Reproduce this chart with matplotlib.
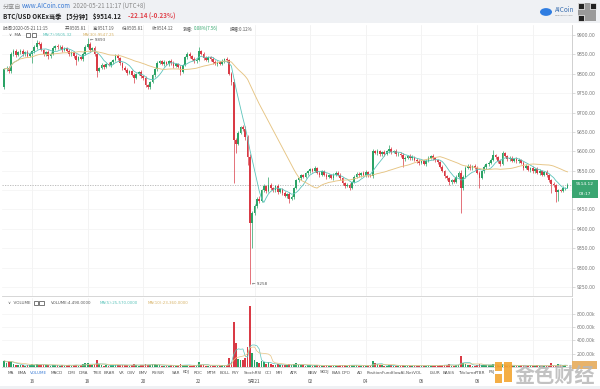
import numpy as np
import pandas as pd
import matplotlib
matplotlib.use("Agg")
import matplotlib.pyplot as plt
from matplotlib.patches import Rectangle, Circle
from matplotlib.transforms import blended_transform_factory

plt.rcParams['font.family'] = ['Noto Sans CJK SC', 'DejaVu Sans']

# ---------------- data ----------------
first_open = 9765
closes = [
    9812, 9816, 9806, 9852, 9858, 9848, 9855, 9860, 9850, 9856,
    9847, 9852, 9858, 9868, 9880, 9876, 9862, 9850, 9855, 9845,
    9852, 9866, 9872, 9868, 9870, 9862, 9866, 9858, 9850, 9855,
    9845, 9836, 9842, 9838, 9852, 9870, 9878, 9862, 9866, 9850,
    9808, 9815, 9822, 9818, 9826, 9822, 9830, 9836, 9846, 9840,
    9828, 9815, 9810, 9803, 9806, 9796, 9790, 9800, 9804, 9794,
    9788, 9770, 9765, 9778, 9796, 9812, 9828, 9832, 9826, 9830,
    9825, 9832, 9828, 9820, 9825, 9818, 9805, 9822, 9842, 9852,
    9845, 9838, 9832, 9836, 9858, 9852, 9840, 9835, 9842, 9838,
    9830, 9826, 9830, 9826, 9832, 9838, 9836, 9800, 9778, 9629,
    9620, 9648, 9662, 9658, 9636, 9585, 9415, 9441, 9460, 9478,
    9472, 9500, 9510, 9498, 9514, 9505, 9500, 9510, 9496, 9502,
    9492, 9485, 9490, 9478, 9482, 9505, 9526, 9530, 9538, 9535,
    9543, 9548, 9554, 9550, 9556, 9545, 9540, 9548, 9540, 9534,
    9538, 9532, 9540, 9545, 9540, 9530, 9518, 9510, 9514, 9506,
    9520, 9535, 9542, 9538, 9544, 9540, 9546, 9538, 9536, 9600,
    9596, 9600, 9592, 9598, 9594, 9600, 9606, 9598, 9600, 9592,
    9594, 9590, 9580, 9584, 9588, 9582, 9586, 9578, 9575, 9570,
    9574, 9568, 9576, 9584, 9588, 9582, 9578, 9572, 9560, 9550,
    9536, 9530, 9520, 9526, 9522, 9535, 9545, 9505, 9535, 9558,
    9562, 9556, 9562, 9558, 9545, 9532, 9548, 9560, 9566, 9570,
    9578, 9590, 9585, 9575, 9568, 9595, 9588, 9580, 9584, 9576,
    9580, 9574, 9578, 9570, 9558, 9562, 9552, 9556, 9548, 9555,
    9545, 9550, 9540, 9546, 9538, 9525, 9515, 9512, 9494, 9500,
    9498, 9505, 9505.81, 9514.12,
]
upper_wick = [
    3, 4, 5, 4, 6, 5, 4, 3, 5, 4,
    5, 4, 3, 5, 7, 4, 5, 3, 4, 6,
    4, 5, 3, 6, 4, 5, 3, 4, 5, 3,
    4, 5, 3, 4, 4, 5, 15, 4, 3, 5,
    4, 3, 5, 4, 3, 5, 4, 3, 4, 5,
    4, 3, 5, 4, 3, 4, 5, 3, 4, 5,
    4, 5, 3, 4, 3, 4, 5, 4, 3, 5,
    4, 3, 5, 4, 3, 4, 5, 3, 4, 4,
    4, 3, 5, 4, 12, 4, 3, 5, 4, 3,
    4, 5, 3, 4, 5, 3, 4, 3, 5, 8,
    6, 4, 3, 5, 6, 5, 8, 6, 5, 4,
    6, 4, 5, 4, 19, 5, 4, 3, 5, 4,
    4, 5, 3, 4, 5, 4, 3, 5, 4, 3,
    4, 5, 3, 4, 5, 3, 4, 5, 3, 4,
    3, 4, 5, 3, 4, 5, 3, 4, 5, 3,
    4, 3, 5, 4, 3, 4, 5, 3, 4, 6,
    4, 5, 3, 4, 5, 3, 10, 4, 3, 5,
    4, 3, 5, 4, 3, 5, 4, 3, 4, 5,
    3, 4, 5, 4, 3, 5, 4, 3, 4, 5,
    3, 4, 5, 3, 4, 5, 4, 6, 4, 3,
    5, 4, 3, 5, 4, 3, 4, 5, 3, 4,
    5, 13, 4, 3, 5, 5, 4, 3, 5, 4,
    3, 5, 4, 3, 4, 5, 3, 4, 5, 3,
    4, 5, 3, 4, 5, 3, 4, 5, 4, 3,
    4, 5, 3, 3.07,
]
lower_wick = [
    3, 4, 5, 4, 5, 4, 3, 5, 4, 5,
    4, 5, 25, 4, 5, 3, 4, 5, 4, 6,
    4, 3, 5, 4, 3, 5, 4, 3, 5, 4,
    5, 13, 4, 3, 5, 4, 3, 5, 4, 3,
    16, 4, 3, 5, 4, 3, 5, 4, 3, 4,
    5, 4, 3, 5, 4, 3, 14, 4, 3, 5,
    4, 5, 3, 4, 3, 5, 4, 3, 4, 5,
    3, 4, 5, 4, 3, 4, 8, 4, 3, 5,
    4, 3, 5, 4, 3, 4, 5, 3, 4, 5,
    4, 3, 5, 4, 3, 4, 5, 4, 6, 111,
    25, 5, 4, 6, 8, 20, 157, 64, 6, 5,
    6, 4, 5, 6, 4, 5, 6, 4, 5, 4,
    5, 4, 6, 11, 4, 5, 3, 4, 5, 4,
    3, 4, 5, 4, 3, 4, 5, 3, 4, 5,
    4, 3, 5, 4, 3, 4, 5, 4, 3, 6,
    4, 3, 5, 4, 3, 4, 5, 4, 3, 4,
    4, 5, 3, 4, 5, 3, 4, 5, 3, 4,
    3, 4, 20, 4, 3, 5, 4, 3, 4, 5,
    4, 3, 5, 4, 3, 4, 5, 4, 3, 4,
    5, 4, 6, 4, 3, 4, 5, 64, 5, 4,
    3, 4, 5, 4, 3, 27, 4, 3, 5, 4,
    3, 4, 5, 4, 6, 4, 3, 5, 4, 3,
    4, 5, 3, 4, 5, 4, 3, 5, 4, 3,
    4, 5, 3, 4, 5, 4, 22, 4, 25, 22,
    4, 3, 5, 0,
]
volume_k = [
    95, 60, 90, 85, 40, 30, 25, 35, 28, 22,
    30, 25, 45, 35, 50, 30, 28, 35, 25, 30,
    22, 28, 30, 25, 20, 30, 22, 25, 35, 20,
    30, 35, 22, 25, 40, 55, 60, 30, 25, 40,
    100, 40, 25, 22, 28, 20, 25, 30, 35, 28,
    35, 30, 25, 28, 20, 30, 40, 25, 20, 30,
    28, 45, 35, 30, 40, 38, 35, 25, 20, 22,
    18, 20, 25, 22, 18, 20, 40, 30, 35, 25,
    22, 20, 25, 20, 75, 30, 25, 20, 22, 18,
    20, 18, 22, 20, 25, 22, 30, 130, 75, 680,
    355, 120, 100, 100, 130, 300, 910, 210, 100, 75,
    60, 90, 70, 45, 80, 40, 35, 30, 40, 30,
    25, 35, 30, 40, 25, 45, 55, 30, 25, 30,
    22, 25, 30, 20, 25, 30, 22, 18, 20, 25,
    18, 20, 22, 18, 20, 25, 30, 28, 20, 25,
    30, 35, 25, 20, 18, 20, 22, 18, 20, 95,
    55, 40, 30, 25, 22, 20, 35, 25, 20, 18,
    20, 22, 35, 20, 18, 20, 15, 18, 20, 22,
    18, 15, 20, 30, 22, 18, 20, 22, 30, 28,
    35, 25, 45, 20, 22, 30, 35, 160, 60, 45,
    30, 25, 20, 22, 30, 40, 35, 30, 25, 28,
    30, 45, 25, 30, 22, 40, 25, 20, 18, 22,
    20, 18, 22, 25, 30, 22, 20, 25, 22, 20,
    25, 20, 22, 18, 10, 12, 55, 14, 14.75, 40,
    30, 25, 28.36, 4.49,
]
time_label_bars = [12, 36, 60, 84, 108, 132, 156, 180, 204]
time_labels = ["16", "18", "20", "22", "5月21", "02", "04", "06", "08"]
grid_bars = [12, 36, 60, 84, 108, 132, 156, 180, 204, 228]
price_ticks = list(range(9250, 9901, 50))
volume_ticks = [200, 400, 600, 800]
indicator_names = ["MA", "EMA", "VOLUME", "MACD", "DMI", "DMA", "TRIX", "BRAR", "VR", "OBV",
                   "EMV", "RSI", "WR", "SAR", "KDJ", "ROC", "MTM", "BOLL", "PSY", "StochRSI",
                   "CCI", "MFI", "ATR", "BBW", "SKDJ", "BIAS", "DPO", "AO",
                   "PositionFundflowAI-NetVOL", "LSUR", "BASIS", "TVolume", "FTBR", "PSJ"]
indicator_x = [8, 18, 30, 51, 68, 79, 92, 104, 119, 127,
               139, 152, 158, 172, 183, 194, 207, 220, 232, 244,
               265, 276, 290, 308, 320, 332, 342, 357,
               367, 430, 443, 458, 475, 489]

# ---------------- derived ----------------
n = len(closes)
idx = np.arange(n)
closes_a = np.array(closes, float)
opens_a = np.concatenate([[first_open], closes_a[:-1]])
highs = np.maximum(opens_a, closes_a) + np.array(upper_wick, float)
lows = np.minimum(opens_a, closes_a) - np.array(lower_wick, float)
vol = np.array(volume_k, float)

RED = '#d93a45'
GREEN = '#2ba366'
TEAL = '#5cc4bb'
TAN = '#e6c483'
cols = [GREEN if c >= o else RED for o, c in zip(opens_a, closes_a)]

ma7 = pd.Series(closes_a).rolling(7, min_periods=1).mean()
ma30 = pd.Series(closes_a).rolling(30, min_periods=1).mean()
vma5 = pd.Series(vol).rolling(5, min_periods=1).mean()
vma10 = pd.Series(vol).rolling(10, min_periods=1).mean()

# ---------------- figure ----------------
W, H = 600, 389
fig = plt.figure(figsize=(6, 3.89), dpi=100)
fig.patch.set_facecolor('#eff1f4')


def fx(px):
    return px / W


def fy(py):
    return 1 - py / H


fig.patches.append(Rectangle((0, fy(386)), 1, fy(23) - fy(386), transform=fig.transFigure,
                             facecolor='white', edgecolor='none', zorder=-10))

XL = (-0.95, 244.95)
ax = fig.add_axes([fx(2), fy(296), fx(572) - fx(2), fy(25) - fy(296)])
axv = fig.add_axes([fx(2), fy(367), fx(572) - fx(2), fy(298) - fy(367)])

for a in (ax, axv):
    a.set_xlim(*XL)
    a.set_facecolor('none')
    for s in ('top', 'left'):
        a.spines[s].set_visible(False)
    a.spines['right'].set_color('#c9c9c9')
    a.spines['right'].set_linewidth(0.6)
    a.spines['bottom'].set_color('#d0d0d0')
    a.spines['bottom'].set_linewidth(0.6)
    a.set_xticks([])
    a.yaxis.tick_right()
    a.tick_params(axis='y', labelsize=3.3, colors='#c0c0c0', labelcolor='#777777',
                  length=2, width=0.4, pad=1.2)
    for g in grid_bars:
        a.axvline(g, color='#efefef', lw=0.5, zorder=0)

# main panel
ax.set_ylim(9226.8, 9925.8)
ax.set_yticks(price_ticks)
ax.set_yticklabels([f"{p:.2f}" for p in price_ticks], family='DejaVu Sans')
for p in price_ticks:
    ax.axhline(p, color='#f3f3f3', lw=0.5, zorder=0)

ax.vlines(idx, lows, highs, colors=cols, lw=0.5, zorder=2)
body_bottom = np.minimum(opens_a, closes_a)
body_h = np.maximum(np.abs(closes_a - opens_a), 1.5)
ax.bar(idx, body_h, bottom=body_bottom, width=0.74, color=cols, lw=0, zorder=3)
ax.plot(idx, ma7, color=TEAL, lw=0.6, zorder=4)
ax.plot(idx, ma30, color=TAN, lw=0.65, zorder=4)
ax.axhline(closes_a[-1], color='#9a9a9a', lw=0.45, ls=(0, (2, 2)), zorder=1)

imax = int(np.argmax(highs))
imin = int(np.argmin(lows))
ax.text(imax + 0.8, highs[imax], f"← {highs[imax]:.0f}", fontsize=3.0, color='#555',
        va='top', ha='left', family='DejaVu Sans')
ax.text(imin + 0.8, lows[imin], f"← {lows[imin]:.0f}", fontsize=3.0, color='#555',
        va='center', ha='left', family='DejaVu Sans')

# current price box
fig.patches.append(Rectangle((fx(572), fy(198)), fx(26), fy(180) - fy(198), transform=fig.transFigure,
                             facecolor='#3aa571', edgecolor='none', zorder=5))
fig.text(fx(585), fy(184.2), f"{closes_a[-1]:.2f}", fontsize=3.2, color='white', ha='center',
         va='center', family='DejaVu Sans', zorder=6)
fig.text(fx(585), fy(193.8), "03:17", fontsize=3.2, color='white', ha='center', va='center',
         family='DejaVu Sans', zorder=6)

# volume panel
axv.set_ylim(0, 1035)
axv.set_yticks(volume_ticks)
axv.set_yticklabels([f"{v:.2f}k" for v in volume_ticks], family='DejaVu Sans')
for v in volume_ticks:
    axv.axhline(v, color='#f3f3f3', lw=0.5, zorder=0)
axv.bar(idx, vol, width=0.74, color=cols, lw=0, zorder=3)
axv.plot(idx, vma5, color=TEAL, lw=0.5, zorder=4)
axv.plot(idx, vma10, color=TAN, lw=0.5, zorder=4)
fig.patches.append(Rectangle((fx(572), fy(369)), fx(25), fy(361) - fy(369), transform=fig.transFigure,
                             facecolor='#e8b36a', edgecolor='none', zorder=5))

# bottom labels
bt = blended_transform_factory(axv.transData, fig.transFigure)
for b, lab in zip(time_label_bars, time_labels):
    fig.text(b, fy(381.5), lab, transform=bt, fontsize=3.4, color='#555', ha='center', va='center')
for name, x in zip(indicator_names, indicator_x):
    fig.text(fx(x), fy(372.5), name, fontsize=3.0, ha='left', va='center', family='DejaVu Sans',
             color='#3a7bd5' if name == 'VOLUME' else '#555555')

# header
fig.text(fx(3), fy(6.5), "分享自", fontsize=4.4, color='#888', va='center')
fig.text(fx(22), fy(6.5), "www.AICoin.com", fontsize=4.4, color='#3a7bd5', va='center')
fig.text(fx(73), fy(6.5), "2020-05-21 11:17 (UTC+8)", fontsize=4.4, color='#888', va='center')
fig.text(fx(3), fy(16.5), "BTC/USD OKEx当季 【5分钟】 $9514.12", fontsize=4.5, color='#222',
         fontweight='bold', va='center')
fig.text(fx(128), fy(16.5), "-22.14 (-0.23%)", fontsize=4.5, color='#e0424b', fontweight='bold', va='center')

info = [(3, "时间:2020-05-21 11:15", '#555'), (65, "开:9505.81", '#555'), (93, "高:9517.19", '#555'),
        (122, "低:9505.81", '#555'), (152, "收:9514.12", '#555'), (183, "涨幅:", '#555'),
        (194, "0.08%(7.56)", '#2fa56a'), (230, "振幅:0.12%", '#555')]
for x, t, c in info:
    fig.text(fx(x), fy(28.5), t, fontsize=3.2, color=c, va='center')

fig.text(fx(9), fy(35.2), "∨  MA", fontsize=3.0, color='#555', va='center', family='DejaVu Sans')
fig.text(fx(8), fy(302.8), "∨  VOLUME", fontsize=3.0, color='#555', va='center', family='DejaVu Sans')
for (x0, y0) in [(26, 33.0), (31.5, 33.0), (34, 300.6), (39.5, 300.6)]:
    fig.patches.append(Rectangle((fx(x0), fy(y0 + 4.4)), fx(4.4), fy(y0) - fy(y0 + 4.4),
                                 transform=fig.transFigure, facecolor='white', edgecolor='#444',
                                 lw=0.5, zorder=6))
fig.text(fx(43), fy(35.0), "MA(7):9505.32", fontsize=2.9, color=TEAL, va='center', family='DejaVu Sans')
fig.text(fx(83), fy(35.0), "MA(30):9547.25", fontsize=2.9, color='#d8b46a', va='center', family='DejaVu Sans')
fig.text(fx(51), fy(302.8), "VOLUME:4,490.0000", fontsize=2.9, color='#555', va='center', family='DejaVu Sans')
fig.text(fx(100), fy(302.8), "MA(5):25,570.0000", fontsize=2.9, color=TEAL, va='center', family='DejaVu Sans')
fig.text(fx(148), fy(302.8), "MA(10):23,360.0000", fontsize=2.9, color='#d8b46a', va='center',
         family='DejaVu Sans')

# AICoin logo + QR
fig.patches.append(Circle((fx(546), fy(12)), radius=6 / W, transform=fig.transFigure,
                          facecolor='#2f7de1', edgecolor='none', zorder=6))
fig.text(fx(555), fy(10.5), "AICoin", fontsize=4.6, color='#3a6fb0', va='center')
fig.text(fx(555), fy(16), "www.aicoin.com", fontsize=1.6, color='#888', va='center', family='DejaVu Sans')
fig.patches.append(Rectangle((fx(578), fy(21)), fx(18), fy(3) - fy(21), transform=fig.transFigure,
                             facecolor='#9a9a9a', edgecolor='none', zorder=6))
for (qx, qy) in [(578, 3), (590, 3), (578, 15)]:
    fig.patches.append(Rectangle((fx(qx), fy(qy + 6)), fx(6), fy(qy) - fy(qy + 6), transform=fig.transFigure,
                                 facecolor='#222', edgecolor='white', lw=0.5, zorder=7))

# watermark
for (x0, y0, w, h) in [(495, 362, 7, 9), (504, 362, 8, 20), (495, 374, 7, 9)]:
    fig.patches.append(Rectangle((fx(x0), fy(y0 + h)), fx(w), fy(y0) - fy(y0 + h), transform=fig.transFigure,
                                 facecolor='#f3a531', edgecolor='none', alpha=0.9, zorder=8))
fig.text(fx(555), fy(375), "金色财经", fontsize=14.5, color='#b8b8b8', alpha=0.85, ha='center',
         va='center', fontweight='bold', zorder=8)

fig.savefig("out.png", dpi=100)
